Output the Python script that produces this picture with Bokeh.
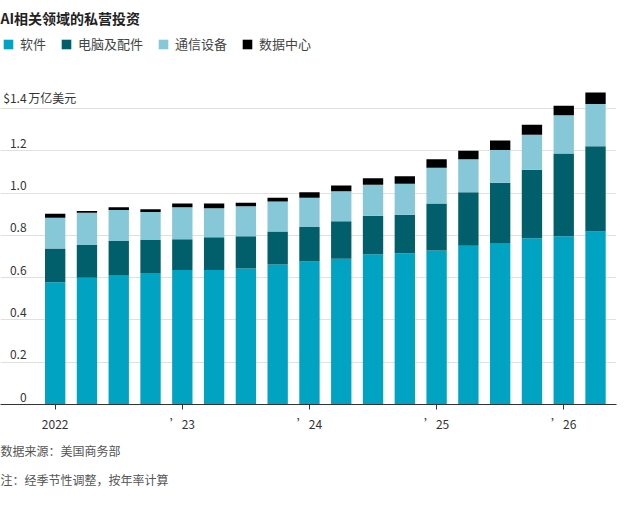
from bokeh.plotting import figure
from bokeh.models import Legend, LegendItem, Title, FixedTicker, ColumnDataSource
from bokeh.core.properties import value
from bokeh.embed import file_html
from bokeh.resources import INLINE

quarters = list(range(18))
software = [0.578,0.600,0.613,0.622,0.636,0.636,0.644,0.662,0.676,0.689,0.711,0.716,0.729,0.751,0.764,0.787,0.796,0.818]
hardware = [0.160,0.155,0.160,0.156,0.146,0.155,0.152,0.156,0.164,0.178,0.182,0.182,0.222,0.253,0.285,0.324,0.391,0.404]
comms    = [0.146,0.152,0.147,0.133,0.151,0.138,0.142,0.142,0.138,0.142,0.147,0.146,0.169,0.156,0.155,0.165,0.182,0.200]
datactr  = [0.018,0.008,0.013,0.013,0.018,0.022,0.017,0.018,0.026,0.027,0.031,0.036,0.040,0.040,0.045,0.048,0.044,0.054]
tick_pos = [0,4,8,12,16]
tick_labels = ["2022","’23","’24","’25","’26"]
y_ticks = [0,0.2,0.4,0.6,0.8,1.0,1.2,1.4]
y_labels = ["0","0.2","0.4","0.6","0.8","1.0","1.2","$1.4"]
names = ["软件","电脑及配件","通信设备","数据中心"]
colors = ["#00a3c2","#005f6b","#86c8d8","#000000"]

src = ColumnDataSource(dict(x=quarters, s=software, h=hardware, c=comms, d=datactr))
FONT = "Noto Sans CJK SC"
p = figure(width=620, height=492, x_range=(-1.72,17.66), y_range=(0,1.76),
           output_backend="svg", toolbar_location=None, min_border_left=0, min_border_right=4,
           min_border_top=0)
p.outline_line_color=None
p.yaxis.visible=False
p.xgrid.visible=False
p.ygrid.ticker=FixedTicker(ticks=y_ticks[1:])
p.ygrid.grid_line_color="#e0e0e0"
r = p.vbar_stack(["s","h","c","d"], x="x", width=0.64, source=src, color=colors, line_color=None)

p.xaxis.ticker=FixedTicker(ticks=tick_pos)
p.xaxis.major_label_overrides={t:l for t,l in zip(tick_pos,tick_labels)}
p.xaxis.major_label_text_font=FONT
p.xaxis.major_label_text_font_size="12px"
p.xaxis.major_label_text_color="#333333"
p.xaxis.axis_line_color="#333333"
p.xaxis.major_tick_line_color="#333333"
p.xaxis.major_tick_in=0
p.xaxis.major_tick_out=5
p.xaxis.minor_tick_line_color=None

p.text(x=[-0.9]*len(y_ticks), y=y_ticks, text=y_labels, text_align="right", text_baseline="bottom",
       y_offset=-3, text_font=value(FONT), text_font_size="12px", text_color="#333333")
p.text(x=[-0.85], y=[1.4], text=["万亿美元"], text_align="left", text_baseline="bottom",
       y_offset=-3, text_font=value(FONT), text_font_size="12px", text_color="#333333")

leg = Legend(items=[LegendItem(label=n, renderers=[rr]) for n,rr in zip(names,r)],
             orientation="horizontal", location="top_left", border_line_color=None,
             background_fill_alpha=0,
             label_text_font=FONT, label_text_font_size="13px", glyph_width=12, glyph_height=12,
             spacing=14, padding=0, margin=2, label_standoff=6)
p.add_layout(leg)
p.add_layout(Title(text="AI相关领域的私营投资", text_font=FONT, text_font_size="14px",
                   text_font_style="bold", text_color="#222222"),"above")
p.add_layout(Title(text="数据来源：美国商务部", text_font=FONT, text_font_size="12px",
                   text_font_style="normal", text_color="#555555"),"below")
p.add_layout(Title(text="注：经季节性调整，按年率计算", text_font=FONT, text_font_size="12px",
                   text_font_style="normal", text_color="#555555"),"below")

open("out.html","w").write(file_html(p, INLINE))
